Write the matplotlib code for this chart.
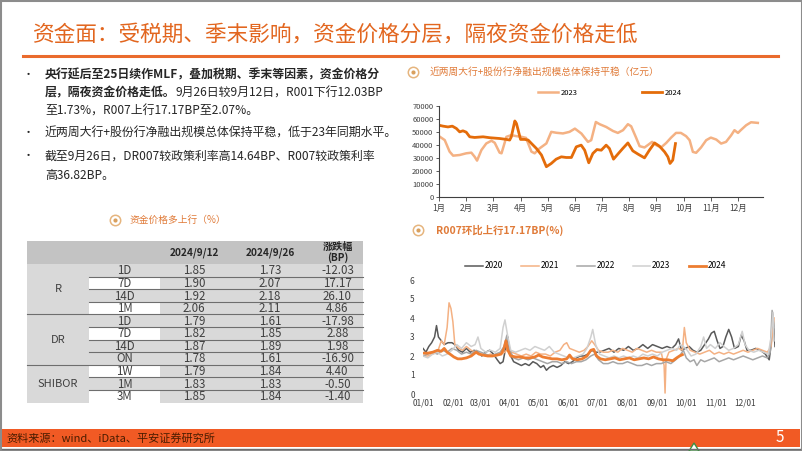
import matplotlib
matplotlib.use('Agg')
import matplotlib.pyplot as plt
from matplotlib.patches import Rectangle, Polygon

plt.rcParams['font.family'] = ['Noto Sans CJK SC', 'DejaVu Sans']

# ---------------- data ----------------
title = '资金面：受税期、季末影响，资金价格分层，隔夜资金价格走低'
source = '资料来源：wind、iData、平安证券研究所'

# table
tbl_cols = ['2024/9/12', '2024/9/26', '涨跌幅\n(BP)']
tbl_groups = [('R', 4), ('DR', 4), ('SHIBOR', 3)]
tbl_tenor = ['1D', '7D', '14D', '1M', '1D', '7D', '14D', 'ON', '1W', '1M', '3M']
tbl_v912 = ['1.85', '1.90', '1.92', '2.06', '1.79', '1.82', '1.87', '1.78', '1.79', '1.83', '1.85']
tbl_v926 = ['1.73', '2.07', '2.18', '2.11', '1.61', '1.85', '1.89', '1.61', '1.84', '1.83', '1.84']
tbl_chg = ['-12.03', '17.17', '26.10', '4.86', '-17.98', '2.88', '1.98', '-16.90', '4.40', '-0.50', '-1.40']

# net lending of big + joint-stock banks (yi yuan), x in months from Jan 1
months = ['1月', '2月', '3月', '4月', '5月', '6月', '7月', '8月', '9月', '10月', '11月', '12月']
m2023 = [0, 0.21, 0.39, 0.52, 0.76, 1.0, 1.19, 1.31, 1.4, 1.56, 1.74, 1.93, 2.05, 2.23, 2.3,
         2.48, 2.66, 2.85, 3.03, 3.2, 3.4, 3.52, 3.7, 3.95, 4.13, 4.32, 4.56, 4.8, 5.0, 5.24,
         5.48, 5.6, 5.77, 5.91, 6.15, 6.4, 6.58, 6.77, 6.95, 7.07, 7.25, 7.38, 7.56, 7.68, 7.84,
         7.99, 8.17, 8.36, 8.54, 8.72, 8.9, 9.09, 9.22, 9.34, 9.46, 9.64, 9.83, 10.0, 10.2,
         10.38, 10.56, 10.75, 10.87, 11.0, 11.1, 11.3, 11.48, 11.73]
v2023 = [46800, 43800, 34900, 31800, 32300, 33600, 34100, 31000, 28000, 36100, 41200, 43300,
         41700, 34100, 33600, 46300, 47600, 46800, 46300, 45500, 34900, 33600, 37400, 41200,
         50100, 49400, 48900, 50100, 52600, 48800, 42400, 43700, 57700, 56000, 53900, 50800,
         49300, 51400, 56000, 54400, 45700, 39100, 38100, 39900, 42400, 39900, 38100, 41600,
         45700, 49300, 49300, 46800, 43700, 34700, 34000, 38100, 43700, 45700, 44200, 41100,
         42400, 47500, 51400, 49300, 51400, 55200, 57500, 57000]
m2024 = [0, 0.15, 0.33, 0.49, 0.64, 0.76, 0.88, 1.0, 1.13, 1.31, 1.62, 1.87, 2.23, 2.48, 2.6,
         2.66, 2.79, 2.85, 3.0, 3.15, 3.28, 3.4, 3.58, 3.77, 3.95, 4.13, 4.31, 4.5, 4.68, 4.87,
         5.05, 5.23, 5.36, 5.51, 5.66, 5.81, 5.97, 6.15, 6.27, 6.42, 6.58, 6.76, 6.95, 7.13,
         7.32, 7.56, 7.74, 7.93, 8.11, 8.3, 8.42, 8.5, 8.6, 8.7]
v2024 = [55200, 54500, 53900, 54500, 52700, 50100, 50900, 49900, 46300, 45800, 46300, 45600,
         45000, 44300, 43800, 46300, 58500, 56500, 44300, 44300, 43800, 41200, 37400, 32300,
         23300, 25800, 29100, 30900, 30400, 30400, 38600, 39900, 36000, 26300, 33500, 36500,
         36000, 39900, 37300, 29100, 33000, 37300, 41600, 35500, 33000, 30100, 36000, 41600,
         39100, 34700, 30900, 25800, 28400, 41100]

# R007 by day of year (%)
day_ticks = [0, 31, 59, 90, 120, 151, 181, 212, 243, 273, 304, 334]
day_labels = ['01/01', '02/01', '03/01', '04/01', '05/01', '06/01', '07/01', '08/01',
              '09/01', '10/01', '11/01', '12/01']
r2020 = {0: 2.4, 3: 2.2, 6: 2.5, 9: 2.7, 12: 3.0, 14: 3.6, 16: 3.0, 19: 2.8, 22: 2.6, 26: 2.7,
         30: 2.7, 33: 2.6, 37: 2.3, 41: 2.2, 45: 2.4, 49: 2.2, 53: 2.3, 57: 2.2, 61: 2.0, 65: 2.2,
         69: 2.3, 73: 2.1, 77: 1.8, 80: 1.6, 83: 1.7, 86: 2.5, 88: 3.0, 90: 2.1, 94: 1.7, 98: 1.6,
         102: 1.5, 106: 1.6, 110: 1.5, 114: 1.7, 118: 1.6, 122: 1.4, 125: 1.5, 128: 1.25,
         131: 1.4, 135: 1.5, 139: 1.4, 143: 1.5, 147: 1.7, 151: 1.6, 155: 1.7, 159: 1.9,
         163: 2.0, 167: 2.0, 171: 2.1, 175: 2.3, 179: 2.2, 183: 2.2, 188: 2.3, 193: 2.4,
         198: 2.2, 203: 2.4, 208: 2.3, 213: 2.5, 218: 2.3, 223: 2.4, 228: 2.6, 233: 2.4,
         238: 2.6, 243: 2.5, 248: 2.4, 253: 2.5, 258: 2.4, 262: 2.6, 265: 2.9, 268: 2.3,
         272: 2.4, 276: 2.5, 280: 2.3, 284: 2.2, 288: 2.3, 292: 2.6, 296: 2.9, 299: 3.2,
         302: 3.3, 305: 2.8, 308: 2.4, 311: 2.5, 314: 3.0, 317: 3.4, 320: 3.0, 323: 2.4,
         327: 2.5, 330: 3.1, 333: 2.8, 336: 2.3, 340: 2.3, 345: 2.4, 350: 2.3, 355: 2.1,
         359: 1.8, 361: 2.6, 363: 4.2, 365: 2.5}
r2021 = {0: 2.0, 5: 2.0, 10: 2.1, 15: 2.2, 19: 2.8, 22: 2.6, 25: 3.5, 27: 4.8, 29: 4.5, 31: 3.8,
         33: 2.6, 37: 2.4, 41: 2.3, 45: 2.5, 50: 2.3, 55: 2.2, 60: 2.1, 65: 2.0, 70: 2.1, 75: 2.0,
         80: 2.1, 85: 2.2, 88: 2.4, 92: 2.2, 97: 2.1, 102: 2.0, 107: 2.1, 112: 2.0, 117: 2.2,
         122: 2.1, 127: 2.1, 132: 2.0, 137: 2.2, 142: 2.3, 146: 2.6, 149: 2.7, 152: 2.4,
         157: 2.3, 162: 2.2, 167: 2.3, 171: 2.5, 175: 2.8, 178: 2.6, 182: 2.3, 187: 2.2,
         192: 2.2, 197: 2.3, 202: 2.2, 207: 2.4, 212: 2.3, 217: 2.2, 222: 2.4, 227: 2.3,
         232: 2.2, 237: 2.3, 242: 2.2, 247: 2.2, 250: 1.5, 251: 0.05, 252: 1.8, 255: 2.2,
         260: 2.3, 265: 2.4, 269: 2.3, 271: 3.5, 273: 2.7, 277: 2.3, 282: 2.2, 287: 2.1,
         292: 2.2, 297: 2.3, 302: 2.1, 307: 2.2, 312: 2.1, 317: 2.2, 322: 2.1, 327: 2.2,
         332: 2.3, 337: 2.2, 342: 2.3, 347: 2.4, 352: 2.3, 357: 2.2, 361: 2.5, 364: 4.0}
r2022 = {0: 2.0, 5: 2.1, 10: 2.2, 15: 2.1, 20: 2.3, 25: 2.2, 30: 2.4, 35: 2.3, 40: 2.1, 45: 2.2,
         50: 2.1, 55: 2.3, 60: 2.2, 65: 2.1, 70: 2.0, 75: 2.1, 80: 2.2, 84: 2.5, 87: 3.1, 90: 2.3,
         94: 1.9, 99: 1.8, 104: 1.9, 109: 1.8, 114: 1.9, 119: 1.8, 124: 1.7, 129: 1.6, 134: 1.7,
         139: 1.7, 144: 1.6, 149: 1.7, 154: 1.6, 159: 1.7, 164: 1.7, 169: 1.8, 174: 2.0,
         178: 2.1, 182: 1.8, 187: 1.6, 192: 1.6, 197: 1.7, 202: 1.6, 207: 1.6, 212: 1.7,
         217: 1.6, 222: 1.5, 227: 1.5, 232: 1.6, 237: 1.5, 242: 1.6, 247: 1.6, 252: 1.7,
         257: 1.6, 262: 1.8, 266: 2.0, 270: 2.3, 273: 1.9, 277: 1.7, 281: 1.8, 284: 1.5,
         288: 1.8, 292: 1.7, 297: 1.8, 302: 1.9, 307: 1.7, 312: 1.8, 317: 1.9, 322: 1.8,
         327: 1.9, 332: 2.0, 337: 1.9, 342: 1.8, 347: 1.9, 352: 2.0, 357: 1.9, 360: 2.2,
         362: 4.4, 364: 3.5}
r2023 = {0: 2.0, 5: 1.9, 10: 2.1, 15: 2.2, 20: 2.0, 25: 2.1, 30: 2.3, 35: 2.6, 40: 2.4, 45: 2.7,
         50: 2.5, 54: 2.6, 57: 3.0, 60: 2.4, 65: 2.2, 70: 2.3, 75: 2.2, 80: 2.4, 83: 3.5, 85: 3.9,
         88: 3.0, 91: 2.3, 96: 2.2, 101: 2.3, 106: 2.4, 111: 2.3, 116: 2.5, 121: 2.4, 126: 2.3,
         131: 2.5, 136: 2.2, 141: 2.1, 146: 2.0, 151: 1.9, 156: 1.9, 161: 2.0, 166: 2.1,
         170: 2.4, 174: 3.0, 176: 3.4, 179: 2.6, 183: 2.1, 188: 2.0, 193: 1.9, 198: 2.0,
         203: 1.9, 208: 2.0, 213: 1.9, 218: 2.0, 223: 1.9, 228: 2.1, 233: 2.0, 238: 2.1,
         243: 2.0, 248: 2.2, 253: 2.3, 258: 2.4, 263: 2.3, 267: 2.6, 270: 2.5, 274: 2.3,
         278: 2.0, 283: 2.1, 288: 2.5, 291: 3.0, 294: 2.4, 298: 2.6, 303: 2.4, 308: 2.7,
         312: 2.5, 317: 2.3, 322: 2.4, 327: 2.6, 331: 3.3, 334: 2.6, 338: 2.3, 343: 2.2,
         348: 2.3, 353: 2.2, 358: 2.1, 361: 3.0, 363: 4.3, 364: 2.8}
r2024 = {0: 2.15, 5: 2.15, 10: 2.2, 15: 2.3, 19: 2.25, 22: 2.4, 25: 2.2, 28: 2.1, 32: 1.95,
         36: 1.85, 40: 1.85, 45: 1.9, 50: 2.0, 55: 2.2, 58: 2.1, 62: 2.05, 67: 2.0, 72: 2.0,
         77: 2.05, 81: 2.1, 84: 2.4, 86: 2.8, 88: 2.3, 91: 2.0, 96: 1.95, 101: 1.95, 106: 1.9,
         111: 1.9, 116: 1.95, 120: 2.05, 124: 1.95, 129: 1.9, 134: 1.85, 139: 1.85, 144: 1.8,
         149: 1.85, 152: 2.05, 155: 1.85, 160: 1.8, 165: 1.85, 170: 2.0, 174: 2.3, 177: 2.35,
         180: 2.0, 184: 1.85, 189: 1.8, 194: 1.85, 199: 1.9, 204: 1.8, 209: 1.85, 214: 1.9,
         219: 1.8, 224: 1.85, 229: 1.9, 234: 1.85, 239: 1.95, 244: 1.85, 249: 1.8, 254: 1.8,
         259: 1.75, 263: 1.9, 266: 2.0, 269: 2.07}

# ---------------- figure ----------------
fig = plt.figure(figsize=(8.02, 4.51), dpi=100)
bg = fig.add_axes([0, 0, 1, 1])
bg.set_xlim(0, 802)
bg.set_ylim(451, 0)
bg.axis('off')

orange = '#E2661F'
bg.add_patch(Rectangle((0.5, 0.5), 801, 450, fill=False, ec='#8C8C8C', lw=1.5))
bg.text(33, 35, title, fontsize=15.6, color=orange, va='center')
bg.plot([23, 778], [56, 56], color='#EA6B2D', lw=2.2)

# footer
bg.add_patch(Rectangle((2, 429), 798, 18, fc='#F15A24', ec='none'))
bg.plot([2, 800], [449, 449], color='#6E6E6E', lw=1)
bg.add_patch(Polygon([[689, 451], [694, 443], [699, 451]], closed=True, fc='white', ec='#3E8E41', lw=1))
bg.text(6, 438, source, fontsize=8, color='#4A1C00', va='center')
bg.text(780, 437, '5', fontsize=11, color='white', va='center', ha='center')

# bullets
renderer = fig.canvas.get_renderer()


def runs(x, y, parts):
    for txt, bold in parts:
        t = bg.text(x, y, txt, fontsize=8.6, color='#262626', va='center',
                    fontweight='bold' if bold else 'normal')
        x = t.get_window_extent(renderer).x1


for yb in [75, 133, 156]:
    bg.text(28, yb, '•', fontsize=8, color='#262626', va='center', ha='center')
runs(45, 75, [('央行延后至25日续作MLF，叠加税期、季末等因素，资金价格分', True)])
runs(45, 93, [('层，隔夜资金价格走低。', True), ('9月26日较9月12日，R001下行12.03BP', False)])
runs(45, 111, [('至1.73%，R007上行17.17BP至2.07%。', False)])
runs(45, 133, [('近两周大行+股份行净融出规模总体保持平稳，低于23年同期水平。', False)])
runs(45, 156, [('截至9月26日，DR007较政策利率高14.64BP、R007较政策利率', False)])
runs(45, 175, [('高36.82BP。', False)])


def badge(x, y):
    bg.plot([x], [y], marker='o', ms=7.5, mfc='white', mec='#E6B57E', mew=1.1)
    bg.plot([x], [y], marker='o', ms=3, mfc='#D9A05E', mec='none')


sub_c = '#E07B39'
badge(115, 220)
bg.text(130, 220, '资金价格多上行（%）', fontsize=7, color=sub_c, va='center')
badge(413, 72)
bg.text(430, 72, '近两周大行+股份行净融出规模总体保持平稳（亿元）', fontsize=7, color=sub_c, va='center')
badge(418, 230)
bg.text(436, 230, 'R007环比上行17.17BP(%)', fontsize=7.5, color=sub_c, va='center',
        fontweight='bold')

# table
cx = [27, 89, 160, 228, 312, 363]
top, hdr_b, rh = 241, 264, 12.6
txt_c = '#404040'
gray = '#D9D9D9'
bg.add_patch(Rectangle((cx[0], top), cx[-1] - cx[0], hdr_b - top, fc='#C3C3C3', ec='none'))
for j, h in enumerate(tbl_cols):
    bg.text((cx[j + 2] + cx[j + 3]) / 2, (top + hdr_b) / 2, h, fontsize=7.3, fontweight='bold',
            color='#262626', ha='center', va='center', linespacing=1.0)
white_tenor = [False, True, False, True, False, True, False, False, True, False, True]
r0 = 0
for name, n in tbl_groups:
    y0 = hdr_b + r0 * rh
    bg.add_patch(Rectangle((cx[0], y0), cx[1] - cx[0], n * rh, fc=gray, ec='none'))
    bg.text((cx[0] + cx[1]) / 2, y0 + n * rh / 2, name, fontsize=8, color=txt_c,
            ha='center', va='center')
    r0 += n
for i in range(len(tbl_tenor)):
    y0 = hdr_b + i * rh
    bg.add_patch(Rectangle((cx[1], y0), cx[2] - cx[1], rh,
                           fc='white' if white_tenor[i] else gray, ec='none'))
    bg.add_patch(Rectangle((cx[2], y0), cx[5] - cx[2], rh, fc=gray, ec='none'))
    for j, val in enumerate([tbl_tenor[i], tbl_v912[i], tbl_v926[i], tbl_chg[i]]):
        bg.text((cx[j + 1] + cx[j + 2]) / 2, y0 + rh / 2 + 0.5, val, fontsize=8.3, color=txt_c,
                ha='center', va='center')
    if i > 0:
        x_start = cx[0] if i in (4, 8) else cx[1]
        bg.plot([x_start, cx[5]], [y0, y0], color='#6E6E6E', lw=0.8)

# ---------------- chart 1 ----------------
ax1 = fig.add_axes([439 / 802, 1 - 197 / 451, 324 / 802, 91 / 451])
ax1.plot(m2023, v2023, color='#F4B183', lw=1.8, label='2023', solid_joinstyle='round')
ax1.plot(m2024, v2024, color='#E46C0A', lw=2.0, label='2024', solid_joinstyle='round')
ax1.set_xlim(0, 11.92)
ax1.set_ylim(0, 70000)
ax1.set_yticks(range(0, 70001, 10000))
ax1.set_xticks(range(12))
ax1.set_xticklabels(months)
for s in ['top', 'right']:
    ax1.spines[s].set_visible(False)
for s in ['left', 'bottom']:
    ax1.spines[s].set_color('#404040')
    ax1.spines[s].set_linewidth(0.8)
ax1.tick_params(axis='y', labelsize=5.5, length=2, width=0.6, pad=2, colors='#404040')
ax1.tick_params(axis='x', labelsize=6, length=3, width=0.6, pad=2, colors='#404040')
ax1.legend(loc='center', bbox_to_anchor=(610 / 802, 1 - 93 / 451), bbox_transform=fig.transFigure,
           ncol=2, frameon=False, fontsize=5.5, handlelength=2.6, columnspacing=8.5,
           handletextpad=0.3)

# ---------------- chart 2 ----------------
ax2 = fig.add_axes([423 / 802, 1 - 394 / 451, 352 / 802, 114 / 451])
series = [('2020', r2020, '#595959', 1.1), ('2021', r2021, '#F4B183', 1.1),
          ('2022', r2022, '#A6A6A6', 1.1), ('2023', r2023, '#D0D0D0', 1.1),
          ('2024', r2024, '#ED7D31', 2.0)]
for lab, d, c, lw in series:
    ax2.plot(list(d.keys()), list(d.values()), color=c, lw=lw, label=lab)
ax2.set_xlim(0, 365)
ax2.set_ylim(0, 6)
ax2.set_yticks(range(0, 7))
ax2.set_xticks(day_ticks)
ax2.set_xticklabels(day_labels)
for s in ax2.spines.values():
    s.set_visible(False)
ax2.tick_params(axis='both', length=0, labelsize=6, colors='#404040')
ax2.tick_params(axis='y', pad=6)
ax2.tick_params(axis='x', pad=3)
ax2.legend(loc='center', bbox_to_anchor=(596 / 802, 1 - 266 / 451), bbox_transform=fig.transFigure,
           ncol=5, frameon=False, fontsize=6, handlelength=2.1, columnspacing=2.2,
           handletextpad=0.2)

fig.savefig('out.png', dpi=100)
